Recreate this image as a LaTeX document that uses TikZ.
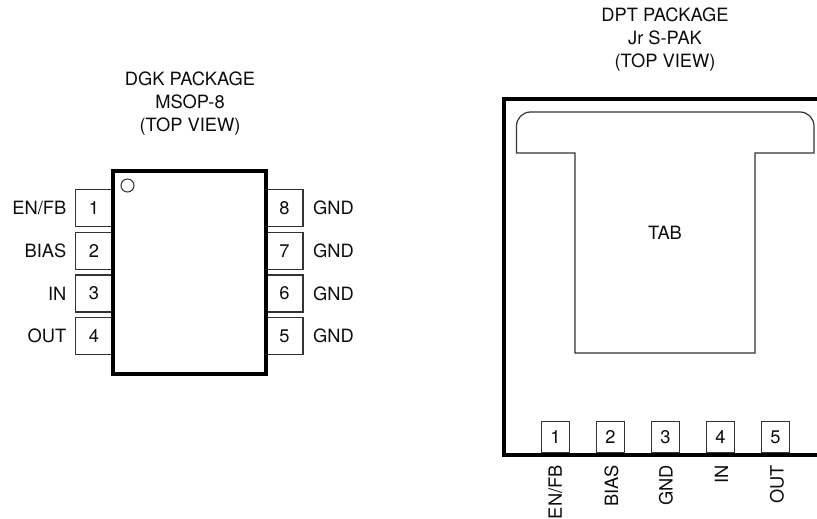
\documentclass[tikz,border=0pt]{standalone}
\usepackage{fontspec}
\setmainfont{TeX Gyre Heros}
\begin{document}
\begin{tikzpicture}[x=1pt,y=-1pt,
  chipline/.style={line width=4pt,black},
  thinline/.style={line width=1.1pt,draw=black!80},
  pinh/.style={thinline,fill=white,minimum width=37pt,minimum height=37pt,inner sep=0pt,font=\fontsize{18.3}{18.3}\selectfont,text=black!95},
  pinv/.style={thinline,fill=white,minimum width=27.5pt,minimum height=31pt,inner sep=0pt,font=\fontsize{18.3}{18.3}\selectfont,text=black!95},
  lab/.style={inner sep=0pt,font=\fontsize{18.3}{18.3}\selectfont,text=black!95},
  title/.style={inner sep=0pt,align=center,font=\fontsize{18.3}{23}\selectfont,text=black!95}]
\useasboundingbox (0,0) rectangle (817,519);
% DGK package
\node[title] (t1) at (190,104) {DGK PACKAGE\\MSOP-8\\(TOP VIEW)};
\node[pinh] (p1) at (94,208) {1};
\node[pinh] (p2) at (94,251) {2};
\node[pinh] (p3) at (94,293.5) {3};
\node[pinh] (p4) at (94,336) {4};
\node[pinh] (p8) at (284.5,208) {8};
\node[pinh] (p7) at (284.5,251) {7};
\node[pinh] (p6) at (284.5,293.5) {6};
\node[pinh] (p5) at (284.5,336) {5};
\draw[chipline,fill=white] (113,171) rectangle (266,374);
\node[lab,anchor=east] (l1) at (66.5,208) {EN/FB};
\node[lab,anchor=east] (l2) at (66.5,251) {BIAS};
\node[lab,anchor=east] (l3) at (66.5,293.5) {IN};
\node[lab,anchor=east] (l4) at (66.5,336) {OUT};
\node[lab,anchor=west] (r8) at (313,208) {GND};
\node[lab,anchor=west] (r7) at (313,251) {GND};
\node[lab,anchor=west] (r6) at (313,293.5) {GND};
\node[lab,anchor=west] (r5) at (313,336) {GND};
\draw[line width=1pt,black!80] (127.5,185.5) circle (6.5);
% DPT package
\node[title] (t2) at (665,40) {DPT PACKAGE\\Jr S-PAK\\(TOP VIEW)};
\draw[chipline] (817,99) -- (503.5,99) -- (503.5,455) -- (817,455);
\draw[thinline,line width=1.2pt] (516.5,153) -- (516.5,126) arc[start angle=180,end angle=270,radius=14] -- (800,112) arc[start angle=270,end angle=360,radius=14] -- (814,153) -- (755,153) -- (755,353) -- (575,353) -- (575,153) -- cycle;
\node[lab] (tab) at (665,233) {TAB};
\node[pinv,anchor=south] (q1) at (555.5,453) {1};
\node[pinv,anchor=south] (q2) at (610.5,453) {2};
\node[pinv,anchor=south] (q3) at (665.5,453) {3};
\node[pinv,anchor=south] (q4) at (720.5,453) {4};
\node[pinv,anchor=south] (q5) at (775.5,453) {5};
\node[lab,rotate=90,anchor=east] (m1) at (555.5,465) {EN/FB};
\node[lab,rotate=90,anchor=east] (m2) at (611.5,465) {BIAS};
\node[lab,rotate=90,anchor=east] (m3) at (666,465) {GND};
\node[lab,rotate=90,anchor=east] (m4) at (721.5,465) {IN};
\node[lab,rotate=90,anchor=east] (m5) at (777,465) {OUT};
\end{tikzpicture}
\end{document}
